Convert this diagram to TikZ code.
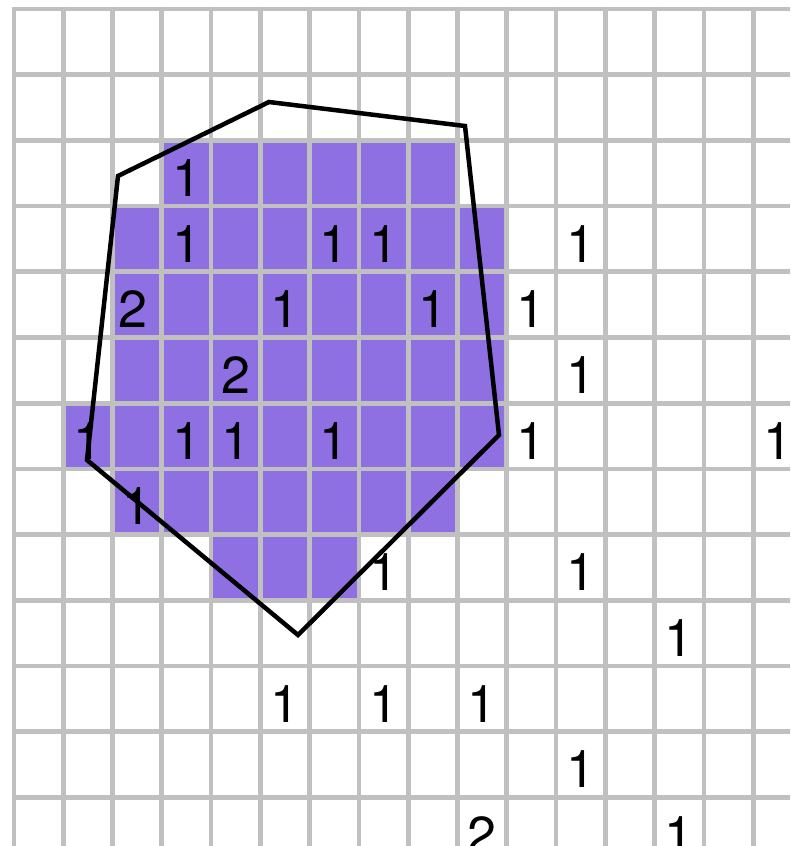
\documentclass[tikz,border=0pt]{standalone}
\usepackage{fontspec}
\setmainfont{TeX Gyre Heros}
\definecolor{cellpurple}{RGB}{143,112,227}
\definecolor{gridgray}{RGB}{192,192,192}
\tikzset{
  gridline/.style={draw=gridgray, line width=4.7pt},
  numlabel/.style={anchor=base, inner sep=0pt, font=\fontsize{52}{52}\selectfont, text=black},
  hull/.style={draw=black, line width=4.5pt, line join=miter}
}
\begin{document}
\begin{tikzpicture}[x=1pt,y=-1pt]
\def\cw{49.28}
\def\ch{65.7}
\def\gx{14}
\def\gy{9}
\useasboundingbox (0,0) rectangle (790,846);
\clip (0,0) rectangle (790,846);
\fill[white] (0,0) rectangle (790,846);
% purple cells
\foreach \r/\a/\b in {2/3/8,3/2/9,4/2/9,5/2/9,6/1/9,7/2/8,8/4/6}
  \fill[cellpurple] ({\gx+\cw*\a},{\gy+\ch*\r}) rectangle ({\gx+\cw*(\b+1)},{\gy+\ch*(\r+1)});
% grid
\foreach \k in {0,...,15}
  \draw[gridline] ({\gx+\cw*\k},{\gy-2.35}) -- ({\gx+\cw*\k},860);
\foreach \k in {0,...,12}
  \draw[gridline] ({\gx-2.35},{\gy+\ch*\k}) -- (810,{\gy+\ch*\k});
% numbers
\foreach \c/\r/\t [count=\i] in {3/2/1, 3/3/1, 6/3/1, 7/3/1, 11/3/1, 2/4/2, 5/4/1, 8/4/1, 10/4/1,
  4/5/2, 11/5/1, 1/6/1, 3/6/1, 4/6/1, 6/6/1, 10/6/1, 15/6/1, 2/7/1, 7/8/1, 11/8/1,
  13/9/1, 5/10/1, 7/10/1, 9/10/1, 11/11/1, 9/12/2, 13/12/1}
  \node[numlabel] (n\i) at ({\gx+\cw*(\c+0.5)-(\c==2)*(\r==4)*4},{\gy+\ch*\r+56}) {\t};
% hull polygon
\coordinate (p1) at (118,176);
\coordinate (p2) at (269,102);
\coordinate (p3) at (465,126);
\coordinate (p4) at (499,435);
\coordinate (p5) at (298,635);
\coordinate (p6) at (87,460);
\draw[hull] (p1) -- (p2) -- (p3) -- (p4) -- (p5) -- (p6) -- cycle;
\end{tikzpicture}
\end{document}
